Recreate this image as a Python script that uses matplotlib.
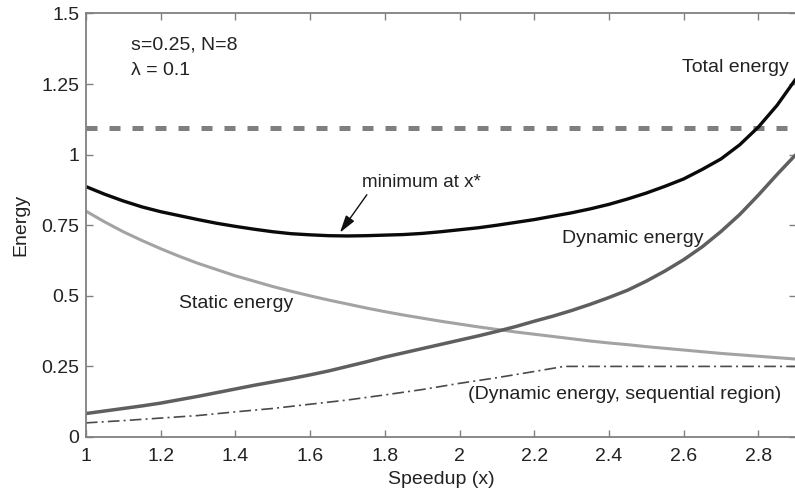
import matplotlib
matplotlib.use("Agg")
import matplotlib.pyplot as plt

plt.rcParams['font.family'] = ['Liberation Sans', 'DejaVu Sans']

# ---- data ----
speedup = [1.00, 1.05, 1.10, 1.15, 1.20, 1.25, 1.30, 1.35, 1.40, 1.45,
           1.50, 1.55, 1.60, 1.65, 1.70, 1.75, 1.80, 1.85, 1.90, 1.95,
           2.00, 2.05, 2.10, 2.15, 2.20, 2.25, 2.30, 2.35, 2.40, 2.45,
           2.50, 2.55, 2.60, 2.65, 2.70, 2.75, 2.80, 2.85, 2.90]
total_energy = [0.887, 0.860, 0.836, 0.815, 0.798, 0.784, 0.770, 0.757, 0.746, 0.736,
                0.727, 0.720, 0.716, 0.713, 0.712, 0.713, 0.715, 0.717, 0.721, 0.727,
                0.734, 0.741, 0.750, 0.760, 0.770, 0.782, 0.794, 0.808, 0.824, 0.843,
                0.864, 0.888, 0.914, 0.948, 0.985, 1.035, 1.098, 1.175, 1.268]
static_energy = [0.800, 0.762, 0.727, 0.696, 0.667, 0.640, 0.615, 0.593, 0.571, 0.552,
                 0.533, 0.516, 0.500, 0.485, 0.471, 0.457, 0.444, 0.432, 0.421, 0.410,
                 0.400, 0.390, 0.381, 0.372, 0.364, 0.356, 0.348, 0.340, 0.333, 0.327,
                 0.320, 0.314, 0.308, 0.302, 0.296, 0.291, 0.286, 0.281, 0.276]
dynamic_energy = [0.083, 0.092, 0.101, 0.110, 0.120, 0.132, 0.144, 0.157, 0.170, 0.183,
                  0.195, 0.207, 0.220, 0.234, 0.250, 0.266, 0.283, 0.298, 0.313, 0.328,
                  0.343, 0.358, 0.374, 0.391, 0.410, 0.428, 0.448, 0.470, 0.494, 0.520,
                  0.552, 0.588, 0.628, 0.674, 0.728, 0.788, 0.857, 0.930, 1.000]
seq_speedup = [1.0, 1.1, 1.2, 1.3, 1.4, 1.5, 1.6, 1.7, 1.8, 1.9, 2.0, 2.1, 2.2, 2.28, 2.9]
seq_dynamic = [0.050, 0.058, 0.067, 0.076, 0.089, 0.101, 0.116, 0.131, 0.149, 0.168,
               0.190, 0.210, 0.232, 0.250, 0.250]
budget_level = 1.095

xticks = [1, 1.2, 1.4, 1.6, 1.8, 2, 2.2, 2.4, 2.6, 2.8]
xtick_labels = ['1', '1.2', '1.4', '1.6', '1.8', '2', '2.2', '2.4', '2.6', '2.8']
yticks = [0, 0.25, 0.5, 0.75, 1, 1.25, 1.5]
ytick_labels = ['0', '0.25', '0.5', '0.75', '1', '1.25', '1.5']

fig = plt.figure(figsize=(7.95, 4.92), dpi=100)
ax = fig.add_axes([0.108, 0.1118, 0.893, 0.8608])

ax.axhline(budget_level, color='#7f7f7f', lw=3.6, linestyle=(0, (2.2, 2.4)),
           dash_capstyle='butt')
ax.plot(speedup, static_energy, color='#a3a3a3', lw=2.2, solid_capstyle='butt')
ax.plot(speedup, dynamic_energy, color='#5f5f5f', lw=2.5, solid_capstyle='butt')
ax.plot(seq_speedup, seq_dynamic, color='#4a4a4a', lw=1.2,
        linestyle=(0, (7, 2.5, 1.2, 2.5)))
ax.plot(speedup, total_energy, color='#0a0a0a', lw=2.4, solid_capstyle='butt')

ax.set_xlim(1, 2.9)
ax.set_ylim(0, 1.5)
ax.set_xticks(xticks)
ax.set_xticklabels(xtick_labels)
ax.set_yticks(yticks)
ax.set_yticklabels(ytick_labels)
ax.tick_params(direction='in', length=5, width=1.0, color='#808080',
               top=True, right=True, labelsize=14, labelcolor='#222222')
ax.tick_params(axis='x', pad=8)
ax.tick_params(axis='y', pad=4.5)
for s in ax.spines.values():
    s.set_color('#808080')
    s.set_linewidth(1.3)

ax.set_xlabel('Speedup (x)', fontsize=14, color='#222222', labelpad=4)
ax.set_ylabel('Energy', fontsize=14, color='#222222', labelpad=9)

tc = '#222222'
ax.text(1.12, 1.389, 's=0.25, N=8', fontsize=14, color=tc, va='center', ha='left')
ax.text(1.12, 1.297, 'λ = 0.1', fontsize=14, color=tc, va='center', ha='left')
ax.text(2.88, 1.31, 'Total energy', fontsize=14, color=tc, va='center', ha='right')
ax.text(2.274, 0.704, 'Dynamic energy', fontsize=14, color=tc, va='center', ha='left')
ax.text(1.249, 0.474, 'Static energy', fontsize=14, color=tc, va='center', ha='left')
ax.text(2.023, 0.149, '(Dynamic energy, sequential region)', fontsize=14, color=tc,
        va='center', ha='left')
ax.text(1.739, 0.903, 'minimum at x*', fontsize=13.5, color=tc, va='center', ha='left')
ax.annotate('', xy=(1.680, 0.724), xytext=(1.752, 0.858),
            arrowprops=dict(arrowstyle='-|>,head_length=0.75,head_width=0.22',
                            color='#111111', lw=1.0,
                            mutation_scale=14, shrinkA=0, shrinkB=0))

fig.savefig('out.png', dpi=100)
